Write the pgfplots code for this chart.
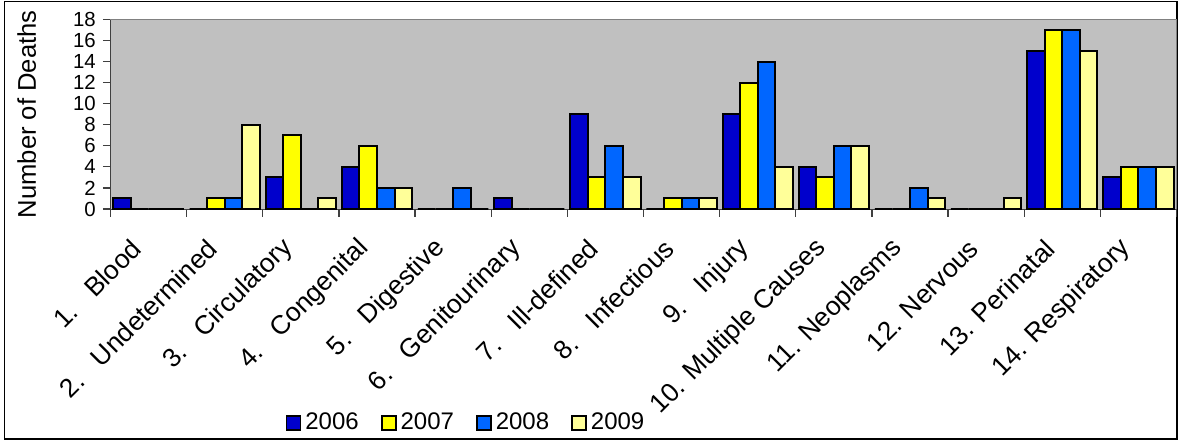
\documentclass[border=0pt]{standalone}
\usepackage{fontspec}
\setmainfont{Liberation Sans}
\usepackage{pgfplots}
\pgfplotsset{compat=1.18}
\definecolor{cA}{HTML}{0000CC}
\definecolor{cB}{HTML}{FFFF00}
\definecolor{cC}{HTML}{0066FF}
\definecolor{cD}{HTML}{FFFF99}
\definecolor{bg}{HTML}{C0C0C0}
\begin{document}
\begin{tikzpicture}
\path[use as bounding box] (-55.25pt,-116pt) rectangle (533.75pt,104.5pt);
\draw[black, line width=0.7pt] (-53pt,-115pt) rectangle (533.2pt,103.8pt);
\begin{axis}[
  at={(0pt,0pt)}, anchor=south west,
  scale only axis, width=533pt, height=94.75pt,
  xmin=-0.5, xmax=13.5, ymin=0, ymax=18,
  axis background/.style={fill=bg, draw=gray},
  axis lines*=left,
  axis line style={-, draw=black!75},
  ybar=0pt, bar width=8.8pt,
  every axis plot/.append style={draw=black, line width=1pt},
  ytick={0,2,...,18},
  xtick={-0.5,0.5,...,13.5},
  xticklabels={},
  extra x ticks={0,1,...,13},
  extra x tick labels={{1.~~~Blood},{2.~~~Undetermined},{3.~~~Circulatory},{4.~~~Congenital},{5.~~~Digestive},{6.~~~Genitourinary},{7.~~~Ill-defined},{8.~~~Infectious},{9.~~~Injury},{10. Multiple Causes},{11. Neoplasms},{12. Nervous},{13. Perinatal},{14. Respiratory}},
  extra x tick style={major tick length=0pt, tick style={draw=none},
    xticklabel style={yshift=-17.5pt, xshift=-6pt, inner sep=0pt, rotate=45, anchor=east, font=\fontsize{13.2}{14}\selectfont}},
  tick align=outside,
  major tick length=3.8pt,
  tick style={draw=black!75, line width=0.6pt},
  yticklabel style={font=\fontsize{10.2}{12}\selectfont},
  /pgf/number format/assume math mode=true,
  ylabel={Number of Deaths},
  ylabel style={at={(axis description cs:-0.0785,0.5)}, anchor=center, font=\fontsize{12.8}{14}\selectfont},
  legend style={at={(0.3344,-1.129)}, anchor=center, legend columns=4, draw=none, fill=none,
    font=\fontsize{12}{13}\selectfont,
    /tikz/every even column/.append style={column sep=9pt}},
  legend image code/.code={\draw[#1, line width=0.9pt] (0pt,-3.5pt) rectangle (7pt,3.5pt);},
]
\addplot[fill=cA] coordinates {(0,1) (1,0) (2,3) (3,4) (4,0) (5,1) (6,9) (7,0) (8,9) (9,4) (10,0) (11,0) (12,15) (13,3)};
\addplot[fill=cB] coordinates {(0,0) (1,1) (2,7) (3,6) (4,0) (5,0) (6,3) (7,1) (8,12) (9,3) (10,0) (11,0) (12,17) (13,4)};
\addplot[fill=cC] coordinates {(0,0) (1,1) (2,0) (3,2) (4,2) (5,0) (6,6) (7,1) (8,14) (9,6) (10,2) (11,0) (12,17) (13,4)};
\addplot[fill=cD] coordinates {(0,0) (1,8) (2,1) (3,2) (4,0) (5,0) (6,3) (7,1) (8,4) (9,6) (10,1) (11,1) (12,15) (13,4)};
\legend{2006,2007,2008,2009}
\end{axis}
\end{tikzpicture}
\end{document}
